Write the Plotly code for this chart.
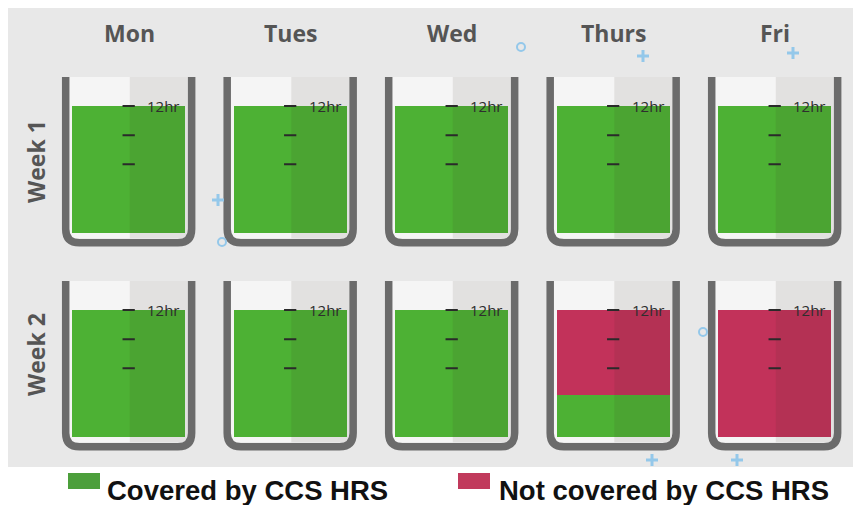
import plotly.graph_objects as go

# ---------------- data ----------------
days = ["Mon", "Tues", "Wed", "Thurs", "Fri"]
weeks = ["Week 1", "Week 2"]
week1_covered = [12, 12, 12, 12, 12]
week1_not_covered = [0, 0, 0, 0, 0]
week2_covered = [12, 12, 12, 4, 0]
week2_not_covered = [0, 0, 0, 8, 12]
scale_marks = [12, 9.25, 6.5]
scale_label = "12hr"
legend_labels = ["Covered by CCS HRS", "Not covered by CCS HRS"]

# ---------------- styling ----------------
W, H = 861, 505
OFF = 8  # page body margin offset
GREEN = "#4db134"
RED = "#c2325a"
LEG_GREEN = "#4c9f3b"
LEG_RED = "#c13a5c"
WALL = "#6b6b6b"
BG = "#e8e8e8"
TXT = "#555555"
DECO = "#94c8ea"

def px(v):
    return (v - OFF) / W

def py(v):
    return (H - (v - OFF)) / H

# x axis: unit spacing 161.5 px, centre of Mon beaker at 129 px
x_left_px = 129 - 0.5 * 161.5
x_right_px = 129 + 4.5 * 161.5
# y axes: 10.58 px per hour; zero line at 233 px (row1) and 437 px (row2)
PPH = 10.58
YR = [-2, 16]
zero_px = [233, 437]

fig = go.Figure()

rows = [(week1_covered, week1_not_covered), (week2_covered, week2_not_covered)]
for r, (cov, notc) in enumerate(rows):
    xa = "x" if r == 0 else "x2"
    ya = "y" if r == 0 else "y2"
    fig.add_trace(go.Bar(x=list(range(len(days))), y=cov, base=[0] * len(cov),
                         marker=dict(color=GREEN, line=dict(width=0)), width=0.70,
                         xaxis=xa, yaxis=ya, showlegend=False, hoverinfo="skip"))
    fig.add_trace(go.Bar(x=list(range(len(days))), y=notc, base=cov,
                         marker=dict(color=RED, line=dict(width=0)), width=0.70,
                         xaxis=xa, yaxis=ya, showlegend=False, hoverinfo="skip"))

shapes = []
# background panel
shapes.append(dict(type="rect", xref="paper", yref="paper", x0=px(8), x1=px(856),
                   y0=py(467), y1=py(4), fillcolor=BG, line=dict(width=0), layer="below"))

annotations = []
top_hr = (233 - 77) / PPH
for r in range(2):
    xr = "x" if r == 0 else "x2"
    yr = "y" if r == 0 else "y2"
    for i in range(len(days)):
        # beaker interior
        shapes.append(dict(type="rect", xref=xr, yref=yr, x0=i - 0.37, x1=i + 0.37,
                           y0=-0.5, y1=top_hr, fillcolor="#f5f5f5",
                           line=dict(width=0), layer="below"))
        # right-half shading over everything inside
        shapes.append(dict(type="rect", xref=xr, yref=yr, x0=i + 0.005, x1=i + 0.37,
                           y0=-0.5, y1=top_hr, fillcolor="rgba(60,45,35,0.10)",
                           line=dict(width=0), layer="above"))
        # walls (U shape with rounded corners)
        xl, xrr = i - 0.392, i + 0.388
        yb = -0.93
        dx, dy = 0.085, 1.3
        path = (f"M{xl},{top_hr} L{xl},{yb + dy} Q{xl},{yb} {xl + dx},{yb} "
                f"L{xrr - dx},{yb} Q{xrr},{yb} {xrr},{yb + dy} L{xrr},{top_hr}")
        shapes.append(dict(type="path", xref=xr, yref=yr, path=path,
                           line=dict(color=WALL, width=7.5), layer="above"))
        # scale marks
        for m in scale_marks:
            shapes.append(dict(type="line", xref=xr, yref=yr, x0=i - 0.04, x1=i + 0.036,
                               y0=m, y1=m, line=dict(color="#2a2a2a", width=2),
                               layer="above"))
        annotations.append(dict(x=i + 0.1, y=scale_marks[0], xref=xr, yref=yr,
                                text=scale_label, showarrow=False, xanchor="left",
                                yanchor="middle",
                                font=dict(family="Open Sans", size=15, color="#2e2e2e")))

# day labels
for i, d in enumerate(days):
    annotations.append(dict(x=i, y=py(33), xref="x", yref="paper", text=f"<b>{d}</b>",
                            showarrow=False, xanchor="center", yanchor="middle",
                            font=dict(family="Open Sans", size=23, color=TXT)))
# week labels
for wy, w in zip([162, 355], weeks):
    annotations.append(dict(x=px(36), y=py(wy), xref="paper", yref="paper",
                            text=f"<b>{w}</b>", textangle=-90, showarrow=False,
                            xanchor="center", yanchor="middle",
                            font=dict(family="Open Sans", size=23, color=TXT)))

# decorative symbols (drawn as shapes)
deco = [("o", 521, 47), ("+", 643, 56), ("+", 793, 53), ("+", 218, 200),
        ("o", 222, 242), ("o", 703, 332), ("+", 652, 460), ("+", 737, 460)]
for s, cx, cy in deco:
    if s == "+":
        shapes.append(dict(type="line", xref="paper", yref="paper", x0=px(cx - 6),
                           x1=px(cx + 6), y0=py(cy), y1=py(cy),
                           line=dict(color=DECO, width=3)))
        shapes.append(dict(type="line", xref="paper", yref="paper", x0=px(cx),
                           x1=px(cx), y0=py(cy - 6), y1=py(cy + 6),
                           line=dict(color=DECO, width=3)))
    else:
        shapes.append(dict(type="circle", xref="paper", yref="paper", x0=px(cx - 4),
                           x1=px(cx + 4), y0=py(cy + 4), y1=py(cy - 4),
                           line=dict(color=DECO, width=2)))

# legend (manual)
for (x0, col, lab, tx) in [(68, LEG_GREEN, legend_labels[0], 105),
                           (458, LEG_RED, legend_labels[1], 497)]:
    shapes.append(dict(type="rect", xref="paper", yref="paper", x0=px(x0), x1=px(x0 + 32),
                       y0=py(489), y1=py(473), fillcolor=col, line=dict(width=0)))
    annotations.append(dict(x=px(tx), y=py(490), xref="paper", yref="paper",
                            text=f"<b>{lab}</b>", showarrow=False, xanchor="left",
                            yanchor="middle",
                            font=dict(family="Liberation Sans", size=27.5, color="#111111")))

ax_common = dict(visible=False, range=[-0.5, 4.5], fixedrange=True)
fig.update_layout(
    width=W, height=H,
    margin=dict(l=0, r=0, t=0, b=0),
    paper_bgcolor="white", plot_bgcolor="rgba(0,0,0,0)",
    barmode="overlay", bargap=0,
    xaxis=dict(**ax_common, domain=[px(x_left_px), px(x_right_px)], anchor="y"),
    xaxis2=dict(**ax_common, domain=[px(x_left_px), px(x_right_px)], anchor="y2"),
    yaxis=dict(visible=False, range=YR, fixedrange=True, anchor="x",
               domain=[py(zero_px[0] - YR[0] * PPH), py(zero_px[0] - YR[1] * PPH)]),
    yaxis2=dict(visible=False, range=YR, fixedrange=True, anchor="x2",
                domain=[py(zero_px[1] - YR[0] * PPH), py(zero_px[1] - YR[1] * PPH)]),
    shapes=shapes, annotations=annotations, showlegend=False,
)

fig.write_html("out.html")
